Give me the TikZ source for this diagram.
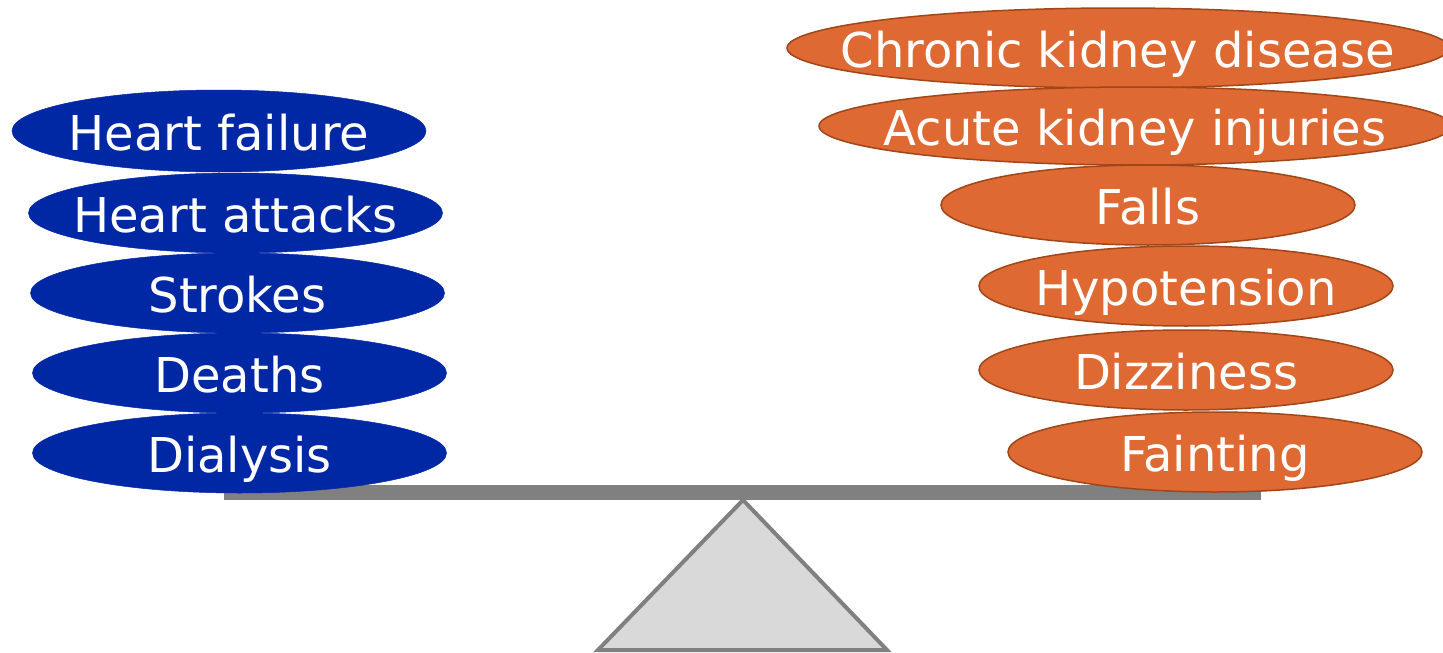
\documentclass[tikz,border=0pt]{standalone}
\usepackage{fontspec}
\setmainfont{DejaVu Sans}
\usetikzlibrary{shapes.geometric}
\definecolor{sblue}{RGB}{0,40,165}
\definecolor{sorange}{RGB}{222,105,50}
\definecolor{sorangeedge}{RGB}{160,70,25}
\definecolor{beamgray}{RGB}{128,128,128}
\definecolor{trifill}{RGB}{217,217,217}
\begin{document}
\begin{tikzpicture}[x=1pt,y=-1pt,
  blob/.style={ellipse, inner sep=0pt, minimum width=414pt, minimum height=80pt},
  bluebl/.style={blob, fill=sblue, draw=sblue, line width=0.5pt},
  orbl/.style={blob, fill=sorange, draw=sorangeedge, line width=1.5pt},
  txt/.style={text=white, font=\fontsize{48}{57}\selectfont, inner sep=0pt, anchor=base}]
\useasboundingbox (0,0) rectangle (1443,653);
% fulcrum
\coordinate (apex) at (743,500);
\coordinate (bl) at (598,650);
\coordinate (br) at (887,650);
\draw[fill=trifill, draw=beamgray, line width=4pt] (apex) -- (bl) -- (br) -- cycle;
% beam
\node[rectangle, fill=beamgray, inner sep=0pt, minimum width=1037pt, minimum height=15pt] (beam) at (742.5,492.5) {};
% blue side
\node[bluebl, minimum height=82pt] (hf) at (219,131) {};
\node[txt] at ([yshift=-19pt]hf.center) {Heart failure};
\node[bluebl] (ha) at (235.5,213) {};
\node[txt] at ([yshift=-19pt]ha.center) {Heart attacks};
\node[bluebl] (st) at (237.5,293) {};
\node[txt] at ([yshift=-19pt]st.center) {Strokes};
\node[bluebl] (de) at (239.5,373) {};
\node[txt] at ([yshift=-19pt]de.center) {Deaths};
\node[bluebl] (di) at (239.5,453) {};
\node[txt] at ([yshift=-19pt]di.center) {Dialysis};
% orange side
\node[orbl, minimum width=662pt] (ckd) at (1118,48) {};
\node[txt] at ([yshift=-19pt]ckd.center) {Chronic kidney disease};
\node[orbl, minimum width=632pt, minimum height=78pt] (aki) at (1135,126) {};
\node[txt] at ([yshift=-19pt]aki.center) {Acute kidney injuries};
\node[orbl] (fa) at (1148,205) {};
\node[txt] at ([yshift=-19pt]fa.center) {Falls};
\node[orbl] (hy) at (1186,286) {};
\node[txt] at ([yshift=-19pt]hy.center) {Hypotension};
\node[orbl] (dz) at (1186,370) {};
\node[txt] at ([yshift=-19pt]dz.center) {Dizziness};
\node[orbl] (fn) at (1215,452) {};
\node[txt] at ([yshift=-19pt]fn.center) {Fainting};
\end{tikzpicture}
\end{document}
